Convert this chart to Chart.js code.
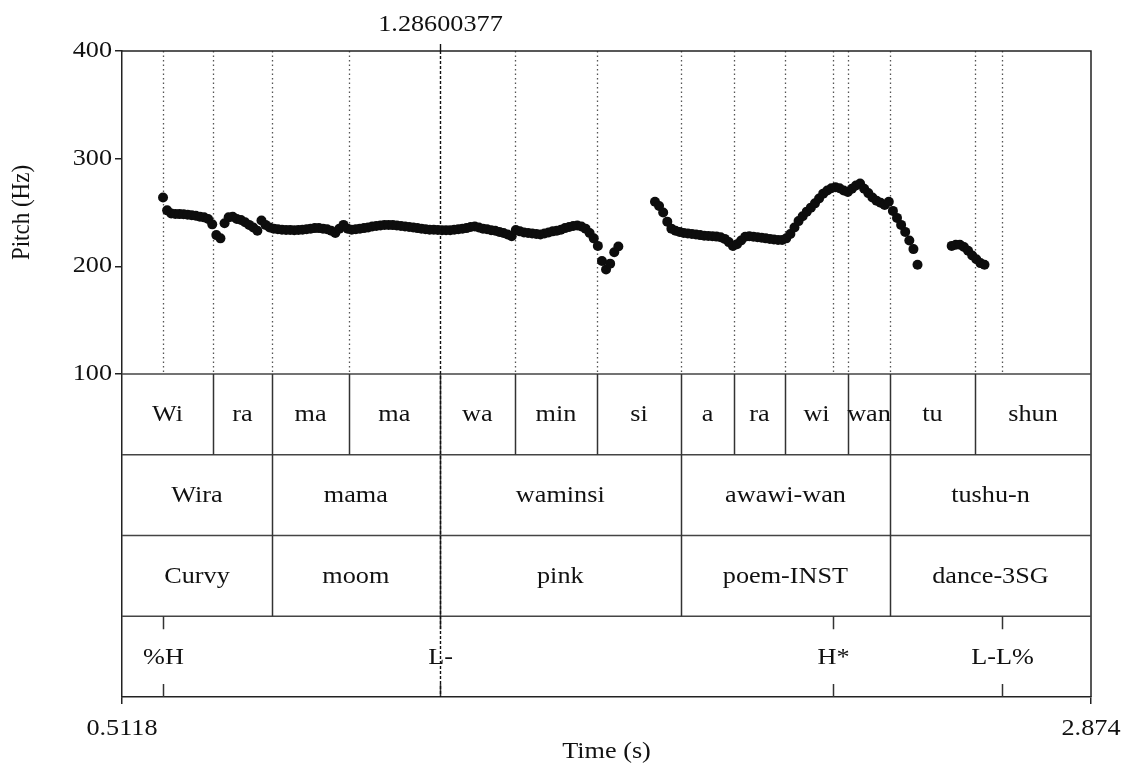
<!DOCTYPE html>
<html lang="en">
<head>
    <meta charset="UTF-8">
    <title>Pitch track with TextGrid tiers</title>
    <script src="https://cdn.jsdelivr.net/npm/chart.js"></script>
    <style>
        body { margin: 0; background: #fff; }
        canvas { display: block; }
    </style>
</head>
<body>
    <canvas id="pitchChart" width="1126" height="769"></canvas>

    <script>
        // Time window (s) and pitch range (Hz)
        const timeStart = 0.5118;
        const timeEnd = 2.874;
        const cursorTime = 1.28600377;
        const pitchTicks = [100, 200, 300, 400];

        // Pitch frames: each voiced stretch has a start time, 10 ms frame step
        const frameStep = 0.01;
        const segmentStarts = [0.6118, 1.8111, 2.5344];
        const pitchSeg1 = [264, 252, 249, 248.6, 248.5, 248.3, 248, 247.5, 247, 246, 245.5, 244, 239, 229, 226,
            240, 245.5, 246, 244, 243, 241, 238.5, 236, 233, 242.5, 238.5, 236, 235, 234.5, 234, 233.8, 233.8,
            233.5, 233.8, 234, 234.5, 235, 235.5, 235.5, 235, 234.5, 233, 231, 235, 238.5, 235, 234, 234.5, 235,
            235.5, 236, 237, 237.5, 238, 238.5, 238.5, 238.3, 238, 237.5, 237, 236.5, 236, 235.5, 235, 234.5, 234,
            234, 233.8, 233.5, 233.5, 233.5, 234, 234.5, 235, 235.5, 236.5, 237, 236, 235, 234.5, 233.5, 233, 232,
            231, 229.5, 228, 233.8, 232.5, 231.5, 231, 230.5, 230, 229.5, 230.5, 231.5, 232.5, 233, 234, 235.5,
            236.5, 237.5, 238, 237, 235, 231, 226, 219, 205, 197, 202.5, 213, 218.5];
        const pitchSeg2 = [260, 256, 250, 241.5, 235, 233, 232, 231, 230.5, 230, 229.5, 229, 228.5, 228.2, 228,
            227.6, 227, 225.5, 222.5, 219, 220.5, 224, 227.5, 228, 227.5, 227, 226.5, 226, 225.5, 225, 224.5, 224.5,
            226, 230, 236, 242, 246.5, 250.8, 254.5, 258.5, 263, 267.5, 270.5, 272.5, 273.5, 272.5, 270.5, 269, 272,
            275, 277, 272, 268, 264, 261, 259, 257, 260, 251.5, 245, 238.5, 232, 224, 216, 201.5];
        const pitchSeg3 = [219, 220, 220, 218, 214.5, 210, 206.5, 203, 201.5];

        // Syllable tier
        const syllableBounds = [0.7336, 0.8775, 1.0652, 1.2860, 1.4698, 1.6697, 1.8745, 2.0037, 2.1281, 2.2816, 2.3840, 2.5912];
        const syllableLabels = ['Wi', 'ra', 'ma', 'ma', 'wa', 'min', 'si', 'a', 'ra', 'wi', 'wan', 'tu', 'shun'];
        // Word and gloss tiers share boundaries
        const wordBounds = [0.8775, 1.2860, 1.8745, 2.3840];
        const wordLabels = ['Wira', 'mama', 'waminsi', 'awawi-wan', 'tushu-n'];
        const glossLabels = ['Curvy', 'moom', 'pink', 'poem-INST', 'dance-3SG'];
        // Tone point tier
        const toneTimes = [0.6118, 1.2860, 2.2451, 2.6570];
        const toneLabels = ['%H', 'L-', 'H*', 'L-L%'];

        // Tiers sit below the pitch range on the same y scale (75 units per tier)
        const tierEdges = [100, 25, -50, -125, -200];

        const FONT = '23px "Liberation Serif", "Times New Roman", serif';
        const STRETCH = 1.14;
        const INK = '#111';

        function buildPoints() {
            const pts = [];
            [pitchSeg1, pitchSeg2, pitchSeg3].forEach((seg, s) => {
                seg.forEach((hz, i) => pts.push({ x: segmentStarts[s] + i * frameStep, y: hz }));
            });
            return pts;
        }

        // Praat-style text: slightly wide serif
        function drawText(ctx, txt, x, y, align) {
            ctx.save();
            ctx.translate(x, y);
            ctx.scale(STRETCH, 1);
            ctx.font = FONT;
            ctx.fillStyle = INK;
            ctx.textAlign = align || 'center';
            ctx.textBaseline = 'middle';
            ctx.fillText(txt, 0, 0);
            ctx.restore();
        }

        function vline(ctx, px, y0, y1) {
            ctx.beginPath();
            ctx.moveTo(px, y0);
            ctx.lineTo(px, y1);
            ctx.stroke();
        }

        function drawIntervalTier(ctx, x, top, bottom, bounds, labels) {
            ctx.strokeStyle = '#333';
            ctx.lineWidth = 1.5;
            bounds.forEach(t => vline(ctx, Math.round(x.getPixelForValue(t)) + 0.5, top, bottom));
            const edges = [timeStart, ...bounds, timeEnd];
            labels.forEach((lab, i) => {
                const cx = (x.getPixelForValue(edges[i]) + x.getPixelForValue(edges[i + 1])) / 2;
                drawText(ctx, lab, cx, (top + bottom) / 2 + 1);
            });
        }

        const textGridPlugin = {
            id: 'textGrid',
            beforeDatasetsDraw(chart) {
                const { ctx, chartArea: a, scales: { x, y } } = chart;
                ctx.save();
                // dotted guides over the pitch area at every boundary and tone point
                ctx.strokeStyle = '#555';
                ctx.lineWidth = 1.3;
                ctx.setLineDash([1.5, 3]);
                const guides = [...syllableBounds, ...toneTimes].filter(t => t !== 1.2860);
                guides.forEach(t => vline(ctx, Math.round(x.getPixelForValue(t)) + 0.5, a.top, y.getPixelForValue(100)));
                ctx.restore();
            },
            afterDraw(chart) {
                const { ctx, chartArea: a, scales: { x, y } } = chart;
                const ty = tierEdges.map(v => y.getPixelForValue(v));
                ctx.save();

                // frame and tier separators
                ctx.strokeStyle = '#222';
                ctx.lineWidth = 1.5;
                ctx.beginPath();
                ctx.moveTo(a.left, a.top);
                ctx.lineTo(a.right, a.top);
                ctx.lineTo(a.right, a.bottom);
                ctx.stroke();
                ctx.strokeStyle = '#444';
                for (let i = 0; i < 4; i++) {
                    ctx.beginPath();
                    ctx.moveTo(a.left, ty[i]);
                    ctx.lineTo(a.right, ty[i]);
                    ctx.stroke();
                }

                drawIntervalTier(ctx, x, ty[0], ty[1], syllableBounds, syllableLabels);
                drawIntervalTier(ctx, x, ty[1], ty[2], wordBounds, wordLabels);
                drawIntervalTier(ctx, x, ty[2], ty[3], wordBounds, glossLabels);

                // tone points: short ticks top and bottom of the tier
                ctx.strokeStyle = '#333';
                ctx.lineWidth = 1.5;
                toneTimes.forEach((t, i) => {
                    const px = Math.round(x.getPixelForValue(t)) + 0.5;
                    vline(ctx, px, ty[3], ty[3] + 13);
                    vline(ctx, px, ty[4] - 13, ty[4]);
                    drawText(ctx, toneLabels[i], px, (ty[3] + ty[4]) / 2 + 1);
                });

                // cursor
                const cx = Math.round(x.getPixelForValue(cursorTime)) + 0.5;
                ctx.strokeStyle = '#111';
                ctx.lineWidth = 1.4;
                ctx.setLineDash([3, 2]);
                vline(ctx, cx, a.top, a.bottom);
                ctx.setLineDash([]);
                vline(ctx, cx, a.top - 7, a.top);
                drawText(ctx, cursorTime.toFixed(8), cx, 25);

                // axis labels
                pitchTicks.forEach(v => drawText(ctx, String(v), 112, y.getPixelForValue(v), 'right'));
                drawText(ctx, '0.5118', x.getPixelForValue(timeStart), 729);
                drawText(ctx, '2.874', x.getPixelForValue(timeEnd), 729);
                drawText(ctx, 'Time (s)', (a.left + a.right) / 2, 752);

                ctx.save();
                ctx.translate(22, (a.top + ty[0]) / 2);
                ctx.scale(STRETCH, 1);
                ctx.rotate(-Math.PI / 2);
                ctx.font = FONT;
                ctx.fillStyle = INK;
                ctx.textAlign = 'center';
                ctx.textBaseline = 'middle';
                ctx.fillText('Pitch (Hz)', 0, 0);
                ctx.restore();

                ctx.restore();
            }
        };

        new Chart(document.getElementById('pitchChart').getContext('2d'), {
            type: 'scatter',
            data: {
                datasets: [{
                    data: buildPoints(),
                    pointRadius: 5,
                    pointBackgroundColor: '#0d0d0d',
                    pointBorderWidth: 0,
                    showLine: false
                }]
            },
            options: {
                responsive: false,
                animation: false,
                events: [],
                layout: { padding: { left: 0, top: 51, right: 35, bottom: 0 } },
                plugins: { legend: { display: false }, tooltip: { enabled: false } },
                scales: {
                    x: {
                        type: 'linear',
                        min: timeStart,
                        max: timeEnd,
                        afterBuildTicks(s) { s.ticks = [{ value: timeStart }, { value: timeEnd }]; },
                        afterFit(s) { s.height = 72; },
                        ticks: { display: false },
                        grid: { drawOnChartArea: false, drawTicks: true, tickLength: 7, color: '#222', lineWidth: 1.5 },
                        border: { display: true, color: '#222', width: 1.5 }
                    },
                    y: {
                        type: 'linear',
                        min: -200,
                        max: 400,
                        afterBuildTicks(s) { s.ticks = pitchTicks.map(v => ({ value: v })); },
                        afterFit(s) { s.width = 122; },
                        ticks: { display: false },
                        grid: { drawOnChartArea: false, drawTicks: true, tickLength: 7, color: '#222', lineWidth: 1.5 },
                        border: { display: true, color: '#222', width: 1.5 }
                    }
                }
            },
            plugins: [textGridPlugin]
        });
    </script>
</body>
</html>
